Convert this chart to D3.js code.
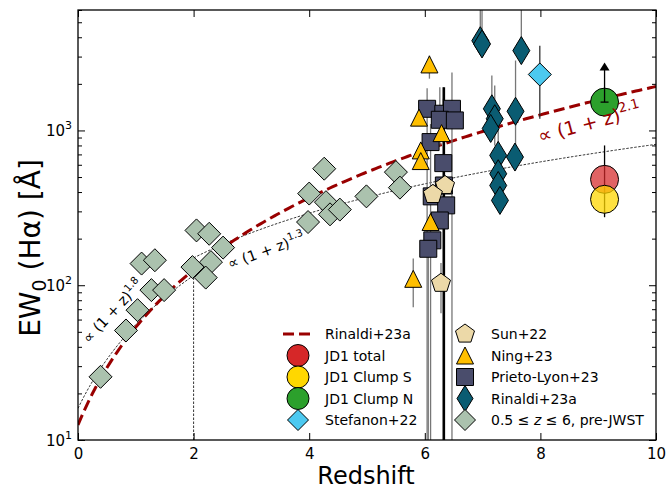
<!DOCTYPE html>
<html>
<head>
<meta charset="utf-8">
<script src="https://cdn.jsdelivr.net/npm/d3@7"></script>
<style>
  body { margin: 0; background: #fff; }
  text { font-family: "DejaVu Sans", sans-serif; }
</style>
</head>
<body>
<svg id="chart" width="666" height="490"></svg>
<script>
// ---- data ----
// pre-JWST compilation, 0.5 <= z <= 6
var zPre  = [0.39, 0.83, 1.03, 1.10, 1.33, 1.27, 1.49, 1.98, 2.05, 2.27, 2.30, 2.21, 2.51, 3.98, 4.00, 4.26, 4.29, 4.36, 4.53, 4.99, 5.50, 5.57];
var ewPre = [25.6, 51, 69, 138, 145, 93, 93, 131, 226, 215, 141, 112, 175, 256, 391, 566, 344, 287, 308, 375, 538, 427];

// Prieto-Lyon+23
var zPL    = [6.04, 6.32, 6.47, 6.26, 6.52, 6.10, 6.32, 6.33, 6.12, 6.37, 6.26, 6.13, 6.06];
var ewPL   = [1380, 1282, 1380, 1172, 1161, 841, 615, 441, 375, 328, 262, 195, 172];
var ewPLHi = [1870, 1600, 2370, 1900, 1500, 1100, 1900, 441, 375, 328, 262, 195, 172];
var ewPLLo = [1, 1282, 1, 800, 1161, 1, 1, 441, 375, 328, 262, 195, 1];

// Ning+23
var zNing    = [6.08, 5.90, 6.29, 5.93, 5.93, 6.10, 5.80];
var ewNing   = [2670, 1210, 961, 743, 634, 256, 110];
var ewNingHi = [3050, 1210, 961, 743, 634, 300, 149];
var ewNingLo = [2160, 1210, 961, 743, 634, 256, 72];

// Sun+22
var zSun    = [6.35, 6.14, 6.28];
var ewSun   = [441, 386, 103];
var ewSunHi = [441, 450, 139];
var ewSunLo = [441, 386, 66];

// Rinaldi+23a
var zRin    = [6.96, 6.99, 7.67, 7.16, 7.21, 7.14, 7.57, 7.27, 7.56, 7.27, 7.27, 7.30];
var ewRin   = [3800, 3620, 3280, 1380, 1190, 1030, 1330, 690, 673, 525, 441, 353];
var ewRinHi = [8000, 8000, 8000, 2265, 1950, 1030, 2830, 1045, 673, 525, 441, 353];
var ewRinLo = [3800, 3620, 3280, 1000, 800, 1030, 552, 690, 673, 525, 441, 353];

// Stefanon+22
var zSte    = [7.99];
var ewSte   = [2300];
var ewSteHi = [3530];
var ewSteLo = [1190];

// JD1 (total, clump S, clump N)
var zJD1     = [9.11, 9.11, 9.11];
var ewJD1    = [483, 359, 1524];
var ewJD1Hi  = [800, 500, 2750];
var ewJD1Lo  = [300, 275, 1524];

// model curves EW = norm * (1+z)^slope
var rinNorm = 12.5, rinSlope = 2.1;
var lowNorm = 16, lowSlope = 1.8;   // z < 2
var highNorm = 36, highSlope = 1.3; // z > 2

var xTicks = [0, 2, 4, 6, 8, 10];
var yMajor = [10, 100, 1000];
var yExp = ["1", "2", "3"];

// ---- layout ----
var mLeft = 78, mRight = 656, mTop = 10, mBottom = 440;

var svg = d3.select("#chart");
var x = d3.scaleLinear().domain([0, 10]).range([mLeft, mRight]);
var y = d3.scaleLog().domain([10, 6000]).range([mBottom, mTop]);

svg.append("clipPath").attr("id", "clip")
  .append("rect").attr("x", mLeft).attr("y", mTop)
  .attr("width", mRight - mLeft).attr("height", mBottom - mTop);

var plot = svg.append("g").attr("clip-path", "url(#clip)");

// curves
function curve(norm, slope, z0, z1) {
  var pts = d3.range(z0, z1 + 1e-9, 0.05).map(function(z) { return [z, norm * Math.pow(1 + z, slope)]; });
  return d3.line().x(function(d) { return x(d[0]); }).y(function(d) { return y(d[1]); })(pts);
}
plot.append("path").attr("d", curve(lowNorm, lowSlope, 0, 2))
  .attr("fill", "none").attr("stroke", "#000").attr("stroke-width", 0.8).attr("stroke-dasharray", "2.5,1.5");
plot.append("path").attr("d", curve(highNorm, highSlope, 2, 10))
  .attr("fill", "none").attr("stroke", "#000").attr("stroke-width", 0.8).attr("stroke-dasharray", "2.5,1.5");
plot.append("line")
  .attr("x1", x(2)).attr("x2", x(2)).attr("y1", y(10)).attr("y2", y(lowNorm * Math.pow(3, lowSlope)))
  .attr("stroke", "#000").attr("stroke-width", 0.8).attr("stroke-dasharray", "2.5,1.5");
plot.append("path").attr("d", curve(rinNorm, rinSlope, 0, 10))
  .attr("fill", "none").attr("stroke", "#990000").attr("stroke-width", 3).attr("stroke-dasharray", "11,5");

// marker shapes
function diamond(w, h) { return "M0," + (-h) + "L" + w + ",0L0," + h + "L" + (-w) + ",0Z"; }
function square(s) { return "M" + (-s) + "," + (-s) + "H" + s + "V" + s + "H" + (-s) + "Z"; }
function triangle(s) { return "M0," + (-s) + "L" + s + "," + s + "L" + (-s) + "," + s + "Z"; }
function pentagon(r) {
  return d3.range(5).map(function(k, i) {
    var a = (-90 + 72 * k) * Math.PI / 180;
    return (i ? "L" : "M") + (r * Math.cos(a)).toFixed(2) + "," + (r * Math.sin(a)).toFixed(2);
  }).join("") + "Z";
}
function circle(r) { var p = d3.path(); p.arc(0, 0, r, 0, 2 * Math.PI); p.closePath(); return p.toString(); }

var shapes = {
  pre: diamond(11.5, 11.5),
  ste: diamond(11.5, 11.5),
  rin: diamond(8.5, 14),
  pl: square(8.5),
  ning: triangle(8.5),
  sun: pentagon(10),
  jd1: circle(14)
};

function errors(zs, hi, lo, color, width) {
  plot.append("g").selectAll("line").data(zs).join("line")
    .attr("x1", function(d) { return x(d); }).attr("x2", function(d) { return x(d); })
    .attr("y1", function(d, i) { return y(Math.max(hi[i], 0.1)); })
    .attr("y2", function(d, i) { return y(Math.max(lo[i], 0.1)); })
    .attr("stroke", color).attr("stroke-width", width);
}
function markers(zs, ews, path, fill, opacity) {
  plot.append("g").selectAll("path").data(zs).join("path")
    .attr("d", path)
    .attr("transform", function(d, i) { return "translate(" + x(d) + "," + y(ews[i]) + ")"; })
    .attr("fill", fill).attr("fill-opacity", opacity || 1)
    .attr("stroke", "#000").attr("stroke-width", 1);
}

// error bars
errors(zPL, ewPLHi, ewPLLo, "#777", 1.3);
errors([6.33], [1900], [1], "#000", 2.5);
errors(zNing, ewNingHi, ewNingLo, "#777", 1.3);
errors(zSun, ewSunHi, ewSunLo, "#777", 1.3);
errors(zRin, ewRinHi, ewRinLo, "#777", 1.3);
errors(zSte, ewSteHi, ewSteLo, "#222", 1.2);

// markers
markers(zPre, ewPre, shapes.pre, "#abc2ae");
markers(zPL, ewPL, shapes.pl, "#4a4d6c");
markers(zNing, ewNing, shapes.ning, "#ffbf00");
markers(zSun, ewSun, shapes.sun, "#ecd9a8");
markers(zRin, ewRin, shapes.rin, "#0a5c72");
markers(zSte, ewSte, shapes.ste, "#4cc9f0");

// JD1
errors([zJD1[0]], [ewJD1Hi[0]], [ewJD1Lo[1]], "#000", 1.3);
markers([zJD1[0]], [ewJD1[0]], shapes.jd1, "#d62728", 0.72);
markers([zJD1[1]], [ewJD1[1]], shapes.jd1, "#ffd700", 0.75);
markers([zJD1[2]], [ewJD1[2]], shapes.jd1, "#2ca02c");
plot.append("line")
  .attr("x1", x(zJD1[2])).attr("x2", x(zJD1[2]))
  .attr("y1", y(ewJD1[2])).attr("y2", y(ewJD1Hi[2]) + 6)
  .attr("stroke", "#000").attr("stroke-width", 1.3);
plot.append("line")
  .attr("x1", x(zJD1[2]) - 4).attr("x2", x(zJD1[2]) + 4)
  .attr("y1", y(ewJD1[2])).attr("y2", y(ewJD1[2]))
  .attr("stroke", "#000").attr("stroke-width", 1.3);
plot.append("path")
  .attr("d", "M0,0L5,8L-5,8Z")
  .attr("transform", "translate(" + x(zJD1[2]) + "," + y(ewJD1Hi[2]) + ")")
  .attr("fill", "#000");

// curve labels
function powLabel(px, py, angle, size, color, exp) {
  var t = svg.append("text")
    .attr("transform", "translate(" + px + "," + py + ") rotate(" + angle + ")")
    .attr("font-size", size).attr("fill", color);
  t.append("tspan").text("\u221D (1 + z)");
  t.append("tspan").attr("dy", -size * 0.45).attr("font-size", size * 0.7).text(exp);
}
powLabel(540, 143, -15, 19, "#990000", "2.1");
powLabel(230, 269, -20, 14.5, "#000", "1.3");
powLabel(89, 344, -47, 14.5, "#000", "1.8");

// axes frame
svg.append("rect").attr("x", mLeft).attr("y", mTop)
  .attr("width", mRight - mLeft).attr("height", mBottom - mTop)
  .attr("fill", "none").attr("stroke", "#000").attr("stroke-width", 1.3);

// x ticks (inward, bottom and top)
var xb = svg.append("g").attr("transform", "translate(0," + mBottom + ")")
  .call(d3.axisBottom(x).tickValues(xTicks).tickSize(-7).tickPadding(8).tickFormat(d3.format("d")));
svg.append("g").attr("transform", "translate(0," + mTop + ")")
  .call(d3.axisTop(x).tickValues(xTicks).tickSize(-7).tickFormat(""));

// y ticks (inward, left and right), log minor ticks
var yMinor = [];
yMajor.forEach(function(d) {
  for (var k = 2; k <= 9; k++) if (d * k <= 6000) yMinor.push(d * k);
});
svg.append("g").attr("transform", "translate(" + mLeft + ",0)")
  .call(d3.axisLeft(y).tickValues(yMajor).tickSize(-7).tickFormat(""));
svg.append("g").attr("transform", "translate(" + mLeft + ",0)")
  .call(d3.axisLeft(y).tickValues(yMinor).tickSize(-4).tickFormat(""));
svg.append("g").attr("transform", "translate(" + mRight + ",0)")
  .call(d3.axisRight(y).tickValues(yMajor).tickSize(-7).tickFormat(""));
svg.append("g").attr("transform", "translate(" + mRight + ",0)")
  .call(d3.axisRight(y).tickValues(yMinor).tickSize(-4).tickFormat(""));
svg.selectAll(".domain").remove();
svg.selectAll(".tick line").attr("stroke", "#000").attr("stroke-width", 1);
xb.selectAll(".tick text").attr("font-size", 15).attr("fill", "#000").attr("font-family", "DejaVu Sans");

yMajor.forEach(function(v, i) {
  var t = svg.append("text").attr("x", mLeft - 6).attr("y", y(v) + 6)
    .attr("text-anchor", "end").attr("font-size", 15).attr("fill", "#000");
  t.append("tspan").text("10");
  t.append("tspan").attr("dy", -7).attr("font-size", 11).text(yExp[i]);
});

// axis labels
svg.append("text").attr("x", (mLeft + mRight) / 2 - 1).attr("y", 484)
  .attr("text-anchor", "middle").attr("font-size", 24).text("Redshift");
var ylab = svg.append("text")
  .attr("transform", "translate(40,248) rotate(-90)")
  .attr("text-anchor", "middle").attr("font-size", 28);
ylab.append("tspan").text("EW");
ylab.append("tspan").attr("dy", 6).attr("font-size", 19).text("0");
ylab.append("tspan").attr("dy", -6).text(" (H\u03B1) [\u00C5]");

// legend
var legLeft = [
  {label: "Rinaldi+23a", kind: "line"},
  {label: "JD1 total", path: circle(11), fill: "#d62728"},
  {label: "JD1 Clump S", path: circle(11), fill: "#ffd700"},
  {label: "JD1 Clump N", path: circle(11), fill: "#2ca02c"},
  {label: "Stefanon+22", path: diamond(10.5, 10.5), fill: "#4cc9f0"}
];
var legRight = [
  {label: "Sun+22", path: pentagon(10), fill: "#ecd9a8"},
  {label: "Ning+23", path: triangle(8.5), fill: "#ffbf00"},
  {label: "Prieto-Lyon+23", path: square(8.5), fill: "#4a4d6c"},
  {label: "Rinaldi+23a", path: diamond(8, 13), fill: "#0a5c72"},
  {label: "pre", path: diamond(10.5, 10.5), fill: "#abc2ae"}
];
var rowY = [334, 355.5, 377, 398.5, 420];
function legendCol(items, mx, tx) {
  items.forEach(function(it, i) {
    var g = svg.append("g");
    if (it.kind === "line") {
      g.append("line").attr("x1", mx - 15).attr("x2", mx + 15).attr("y1", rowY[i]).attr("y2", rowY[i])
        .attr("stroke", "#990000").attr("stroke-width", 3).attr("stroke-dasharray", "11,5");
    } else {
      g.append("path").attr("d", it.path).attr("transform", "translate(" + mx + "," + rowY[i] + ")")
        .attr("fill", it.fill).attr("stroke", "#000").attr("stroke-width", 1);
    }
    var t = g.append("text").attr("x", tx).attr("y", rowY[i] + 5).attr("font-size", 14).attr("fill", "#000");
    if (it.label === "pre") {
      t.append("tspan").text("0.5 \u2264 ");
      t.append("tspan").attr("font-style", "italic").text("z");
      t.append("tspan").text(" \u2264 6, pre-JWST");
    } else {
      t.text(it.label);
    }
  });
}
legendCol(legLeft, 298, 325);
legendCol(legRight, 465, 491);
</script>
</body>
</html>
